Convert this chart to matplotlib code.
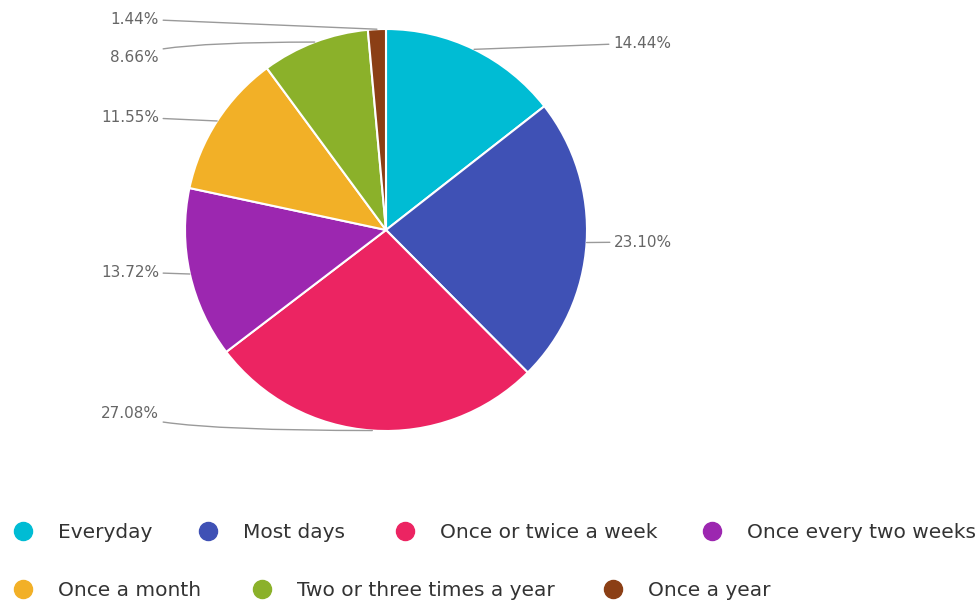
import numpy as np
import matplotlib
matplotlib.use("Agg")
import matplotlib.pyplot as plt
from matplotlib.lines import Line2D

categories = ["Everyday", "Most days", "Once or twice a week", "Once every two weeks",
              "Once a month", "Two or three times a year", "Once a year"]
values = [14.44, 23.10, 27.08, 13.72, 11.55, 8.66, 1.44]
label_texts = ["14.44%", "23.10%", "27.08%", "13.72%", "11.55%", "8.66%", "1.44%"]
colors = ["#00BCD4", "#3F51B5", "#EC2462", "#9C27B0", "#F2B027", "#8BB12A", "#8B3F15"]

W, H = 979, 605
fig = plt.figure(figsize=(W / 100, H / 100), dpi=100)
ax = fig.add_axes([0, 0, 1, 1])

cx, cy_top, R = 386, 230, 201
cy = H - cy_top
wedges, _ = ax.pie(values, colors=colors, startangle=90, counterclock=False,
                   center=(cx, cy), radius=R,
                   wedgeprops=dict(edgecolor="white", linewidth=1.5))
ax.set_xlim(0, W)
ax.set_ylim(0, H)
ax.set_aspect("equal")
ax.axis("off")

# label layout: (x, y from top, side, connection style)
label_layout = [
    (613, 43, "left", "arc3,rad=0"),
    (614, 242, "left", "arc3,rad=0"),
    (159, 413, "right", "angle3,angleA=-35,angleB=0"),
    (159, 272, "right", "arc3,rad=0"),
    (159, 117, "right", "arc3,rad=0"),
    (159, 57, "right", "angle3,angleA=35,angleB=0"),
    (159, 19, "right", "arc3,rad=0"),
]

for w, txt, (lx, ly, side, cs) in zip(wedges, label_texts, label_layout):
    mid = np.deg2rad((w.theta1 + w.theta2) / 2)
    ex = cx + R * np.cos(mid)
    ey = cy + R * np.sin(mid)
    ax.annotate(txt, xy=(ex, ey), xytext=(lx, H - ly),
                ha=side, va="center", fontsize=11, color="#666666",
                arrowprops=dict(arrowstyle="-", color="#9a9a9a", lw=1.0,
                                shrinkA=1, shrinkB=0, connectionstyle=cs))

# legend items (flow layout, marker centre x, row y from top)
legend_layout = [(23, 533), (208, 533), (405, 533), (712, 533),
                 (23, 591), (262, 591), (613, 591)]
fs = 14.5
em = fs * 100 / 72
for cat, col, (mx, my) in zip(categories, colors, legend_layout):
    h = Line2D([], [], marker="o", linestyle="", markersize=13, color=col)
    fig.legend(handles=[h], labels=[cat], loc="center left",
               bbox_to_anchor=((mx - 0.5 * em) / W, 1 - my / H),
               frameon=False, borderpad=0, borderaxespad=0,
               handlelength=1.0, handletextpad=1.25, fontsize=fs,
               labelcolor="#333333")

fig.savefig("out.png", dpi=100)
